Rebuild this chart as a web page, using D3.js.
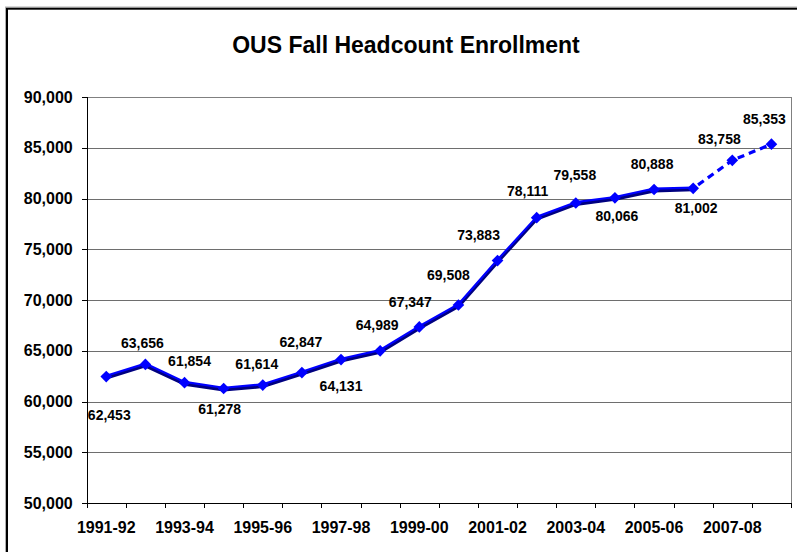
<!DOCTYPE html>
<html>
<head>
<meta charset="utf-8">
<script src="https://cdn.jsdelivr.net/npm/d3@7"></script>
<style>
  body { margin: 0; background: #fff; }
  svg { display: block; font-family: Arial, "Liberation Sans", sans-serif; }
</style>
</head>
<body>
<div id="chart"></div>
<script>
// academic years (categories)
const years = ["1991-92", "1992-93", "1993-94", "1994-95", "1995-96", "1996-97",
  "1997-98", "1998-99", "1999-00", "2000-01", "2001-02", "2002-03", "2003-04",
  "2004-05", "2005-06", "2006-07", "2007-08", "2008-09"];
// actual headcount
const enrollment = [62453, 63656, 61854, 61278, 61614, 62847, 64131, 64989,
  67347, 69508, 73883, 78111, 79558, 80066, 80888, 81002];
// projected headcount (last two years)
const projected = [83758, 85353];
const yTicks = [50000, 55000, 60000, 65000, 70000, 75000, 80000, 85000, 90000];

// nudge of each value label from its point: [dx, dy of baseline]
const labelNudge = [[3, 43], [-3, -16], [5, -17], [-4, 25], [-6, -16], [-1, -26],
  [0, 31], [-3, -21], [-9, -20], [-10, -25], [-19, -21], [-9, -22], [-1, -23],
  [2, 23], [-2, -20], [3, 25], [-13, -16], [-7, -20]];

/* sizes */
const W = 797, H = 552;
const plot = {left: 86.7, right: 791, top: 97, bottom: 503};

const svg = d3.select("#chart").append("svg")
  .attr("width", W).attr("height", H);

/* outer chart border (runs off the right and bottom) */
svg.append("rect")
  .attr("x", 5.5).attr("y", 7).attr("width", 820).attr("height", 580)
  .attr("fill", "none").attr("stroke", "#b0b0b0").attr("stroke-width", 1);
svg.append("rect")
  .attr("x", 7).attr("y", 8.7).attr("width", 820).attr("height", 580)
  .attr("fill", "none").attr("stroke", "#000").attr("stroke-width", 2);

/* title */
svg.append("text")
  .attr("x", 406).attr("y", 53)
  .attr("text-anchor", "middle")
  .attr("font-size", 23).attr("font-weight", "bold")
  .text("OUS Fall Headcount Enrollment");

/* scales */
const x = d3.scaleBand().domain(years).range([plot.left, plot.right]);
const xTick = d3.scaleLinear().domain([0, years.length]).range([plot.left, plot.right]);
const y = d3.scaleLinear().domain([50000, 90000]).range([plot.bottom, plot.top]);
const cx = d => x(d) + x.bandwidth() / 2;

/* gridlines */
svg.append("g")
  .attr("transform", "translate(" + plot.left + ",0)")
  .call(d3.axisLeft(y).tickValues(yTicks.slice(1)).tickSize(-(plot.right - plot.left)).tickFormat(""))
  .call(g => g.select(".domain").remove())
  .selectAll("line").attr("stroke", "#6e6e6e").attr("shape-rendering", "crispEdges");

/* plot area border, top and right */
svg.append("path")
  .attr("d", `M${plot.left},${plot.top}H${plot.right}V${plot.bottom}`)
  .attr("fill", "none").attr("stroke", "#808080").attr("shape-rendering", "crispEdges");

/* y axis */
const yAxis = svg.append("g")
  .attr("transform", "translate(" + plot.left + ",0)")
  .call(d3.axisLeft(y).tickValues(yTicks).tickFormat(d3.format(",")).tickSize(5).tickPadding(9));
yAxis.selectAll("text").attr("font-size", 16).attr("font-weight", "bold").attr("fill", "#000").attr("font-family", null);
yAxis.selectAll("line, path").attr("stroke", "#000").attr("shape-rendering", "crispEdges");

/* x axis: ticks at category boundaries */
const xAxis = svg.append("g")
  .attr("transform", "translate(0," + plot.bottom + ")")
  .call(d3.axisBottom(xTick).tickValues(d3.range(years.length + 1)).tickSize(5).tickSizeOuter(0).tickFormat(""));
xAxis.selectAll("line, path").attr("stroke", "#000").attr("shape-rendering", "crispEdges");

/* x labels, every other year */
const xLab = svg.append("g")
  .attr("transform", "translate(0," + plot.bottom + ")")
  .call(d3.axisBottom(x).tickValues(years.filter((d, i) => i % 2 === 0)).tickSize(0));
xLab.select(".domain").remove();
xLab.selectAll("text")
  .attr("y", 30).attr("dy", null)
  .attr("font-size", 16).attr("font-weight", "bold").attr("fill", "#000").attr("font-family", null);

/* series */
const actual = enrollment.map((v, i) => ({year: years[i], v}));
const proj = [actual[actual.length - 1]].concat(
  projected.map((v, i) => ({year: years[enrollment.length + i], v})));

const line = d3.line().x(d => cx(d.year)).y(d => y(d.v));

svg.append("path")
  .datum(actual)
  .attr("d", line)
  .attr("transform", "translate(0,1.2)")
  .attr("fill", "none").attr("stroke", "#000080").attr("stroke-width", 3.6)
  .attr("stroke-linejoin", "round");
svg.append("path")
  .datum(actual)
  .attr("d", line)
  .attr("transform", "translate(0,-0.8)")
  .attr("fill", "none").attr("stroke", "#0000ff").attr("stroke-width", 2.2)
  .attr("stroke-linejoin", "round");
svg.append("path")
  .datum(proj)
  .attr("d", line)
  .attr("fill", "none").attr("stroke", "#0000ff").attr("stroke-width", 3.2)
  .attr("stroke-dasharray", "7,5").attr("stroke-dashoffset", -6);

/* diamond markers */
const all = actual.concat(proj.slice(1));
svg.append("g").selectAll("path")
  .data(all)
  .enter().append("path")
  .attr("d", d3.symbol(d3.symbolSquare, 68))
  .attr("transform", d => "translate(" + cx(d.year) + "," + y(d.v) + ") rotate(45)")
  .attr("fill", "#0000ff");

/* value labels */
svg.append("g").selectAll("text")
  .data(all)
  .enter().append("text")
  .attr("x", (d, i) => cx(d.year) + labelNudge[i][0])
  .attr("y", (d, i) => y(d.v) + labelNudge[i][1])
  .attr("text-anchor", "middle")
  .attr("font-size", 14).attr("font-weight", "bold")
  .text(d => d3.format(",")(d.v));
</script>
</body>
</html>
